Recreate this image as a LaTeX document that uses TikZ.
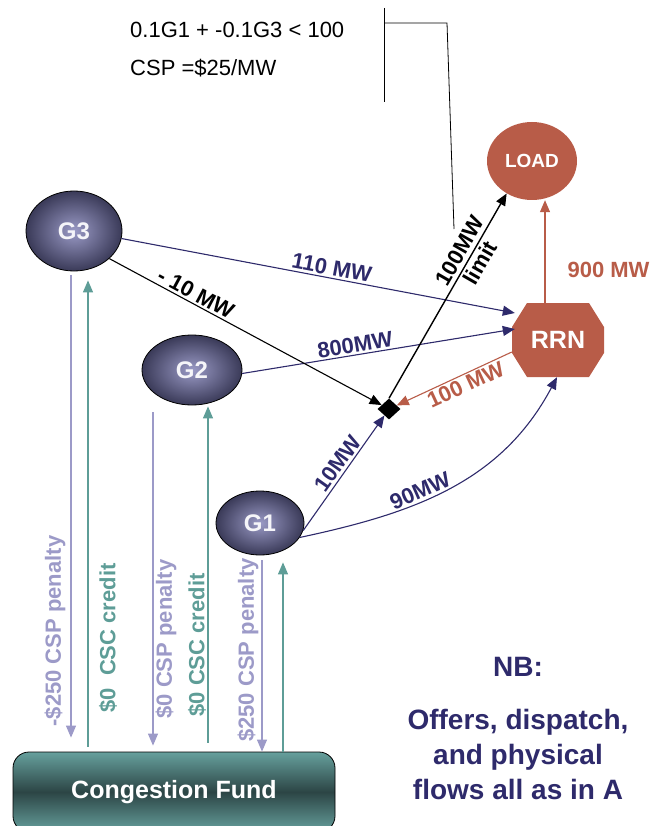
\documentclass[tikz,border=0pt]{standalone}
\usepackage{fontspec}
\setmainfont{Liberation Sans}
\usepackage{tikz}
\usetikzlibrary{arrows.meta, calc, shapes.geometric}

\definecolor{navy}{HTML}{2E2A6B}
\definecolor{brick}{HTML}{B85C48}
\definecolor{lilac}{HTML}{9C9AC8}
\definecolor{seagreen}{HTML}{5E9D97}
\definecolor{gendark}{HTML}{3A3A58}
\definecolor{genlight}{HTML}{9A9AC6}
\definecolor{fundlight}{HTML}{66A09D}
\definecolor{funddark}{HTML}{2C4545}

\tikzset{
    gen/.style={ellipse, draw=black, line width=0.8pt, inner color=genlight, outer color=gendark,
        text=white!90!lilac, font=\fontsize{24}{26}\selectfont\bfseries},
    flow/.style={-{Triangle[length=12pt,width=10pt]}, line width=1.1pt},
    pay/.style={-{Triangle[length=12pt,width=10pt]}, line width=1.1pt},
    lbl/.style={font=\fontsize{22}{24}\selectfont\bfseries, inner sep=2pt},
    vlbl/.style={lbl, rotate=90},
    rrnbox/.style={minimum width=92pt, minimum height=74pt, text=white,
        font=\fontsize{25}{27}\selectfont\bfseries,
        path picture={\fill[brick]
            ([xshift=15pt]path picture bounding box.north west) -- ([xshift=-15pt]path picture bounding box.north east)
            -- ([yshift=-24pt]path picture bounding box.north east) -- ([yshift=24pt]path picture bounding box.south east)
            -- ([xshift=-15pt]path picture bounding box.south east) -- ([xshift=15pt]path picture bounding box.south west)
            -- ([yshift=24pt]path picture bounding box.south west) -- ([yshift=-24pt]path picture bounding box.north west)
            -- cycle;}},
    fund/.style={rectangle, rounded corners=16pt, draw=black, line width=0.8pt,
        top color=fundlight, bottom color=fundlight, middle color=funddark,
        minimum width=322pt, minimum height=80pt, text=white,
        font=\fontsize{25}{27}\selectfont\bfseries},
    nbtext/.style={text=navy, font=\fontsize{28}{35}\selectfont\bfseries, inner sep=0pt}
}

\begin{document}
\begin{tikzpicture}[x=1pt, y=1pt]
    \useasboundingbox (0,0) rectangle (669,-826);
    \clip (0,0) rectangle (669,-826);

    % Constraint text and pointer
    \node[anchor=base west, inner sep=0pt, font=\fontsize{22}{24}\selectfont] (cons) at (130,-38) {0.1G1 + -0.1G3 < 100};
    \node[anchor=base west, inner sep=0pt, font=\fontsize{22}{24}\selectfont] (csp) at (130,-76) {CSP =\$25/MW};
    \coordinate (b1) at (384,-8);
    \coordinate (b2) at (384,-102);
    \coordinate (b3) at (384,-23);
    \coordinate (b4) at (447,-23);
    \coordinate (b5) at (454,-229);
    \draw[line width=0.8pt] (b1) -- (b2);
    \draw[line width=0.8pt] (b3) -- (b4) -- (b5);

    % Generators
    \node[gen, minimum width=96pt, minimum height=80pt] (g3) at (74,-231) {G3};
    \node[gen, minimum width=100pt, minimum height=70pt] (g2) at (192,-370) {G2};
    \node[gen, minimum width=88pt, minimum height=64pt] (g1) at (260,-523) {G1};

    % Load, RRN and junction
    \node[ellipse, fill=brick, minimum width=90pt, minimum height=78pt, text=white,
        font=\fontsize{19}{21}\selectfont\bfseries] (load) at (532,-161) {LOAD};
    \node[rrnbox] (rrn) at (558,-340) {RRN};
    \node[diamond, fill=black, minimum width=23pt, minimum height=21pt, inner sep=0pt] (dmd) at (389,-409) {};

    % Congestion fund
    \node[fund] (fund) at (174,-792) {Congestion Fund};

    % Physical flows
    \draw[flow, navy] (g3.-9) -- node[lbl, sloped, above, pos=0.53] {110 MW} ([xshift=3pt,yshift=27pt]rrn.west);
    \draw[flow, navy] (g2.-4) -- node[lbl, sloped, above, pos=0.42] {800MW} ([xshift=3pt,yshift=11pt]rrn.west);
    \draw[flow, black] (g3.-38) -- node[lbl, sloped, above, pos=0.3] {- 10 MW} (dmd);
    \draw[flow, navy] (g1.-10) -- node[lbl, sloped, above, pos=0.53] {10MW} (dmd);
    \draw[flow, navy] (g1.-20) to[out=12, in=-118] node[lbl, sloped, above, pos=0.4] {90MW} ($(rrn.south)+(-1,0)$);
    \draw[flow, brick] ([yshift=-12pt]rrn.west) -- node[lbl, sloped, below, pos=0.44] {100 MW} (dmd);
    \draw[flow, black, line width=1.4pt] (dmd.north) -- node[lbl, sloped, pos=0.69, align=center] {100MW\\limit} (load.-128);
    \coordinate (r1) at ($(rrn.north)+(-13,0)$);
    \draw[flow, brick] (r1) -- node[lbl, text=brick, right=20pt, pos=0.32] {900 MW} (r1 |- load.south);

    % Settlement flows
    \coordinate (c3p) at (71,0);
    \coordinate (c3c) at (88,0);
    \coordinate (c2p) at (153,0);
    \coordinate (c2c) at (208,0);
    \coordinate (c1p) at (262,0);
    \coordinate (c1c) at (283,0);
    \draw[pay, lilac, shorten <=4pt, shorten >=14pt] (c3p |- g3.south) -- (c3p |- fund.north);
    \draw[pay, seagreen, shorten <=5pt, shorten >=9pt] (c3c |- fund.north) -- (c3c |- g3.south);
    \draw[pay, lilac, shorten <=7pt, shorten >=6pt] (c2p |- g2.south) -- (c2p |- fund.north);
    \draw[pay, seagreen, shorten <=9pt, shorten >=1pt] (c2c |- fund.north) -- (c2c |- g2.south);
    \draw[pay, lilac, shorten <=5pt] (c1p |- g1.south) -- (c1p |- fund.north);
    \draw[pay, seagreen, shorten >=7pt] (c1c |- fund.north) -- (c1c |- g1.south);

    % Settlement labels
    \node[vlbl, text=lilac] (pen3) at (55,-631) {-\$250 CSP penalty};
    \node[vlbl, text=seagreen] (cred3) at (108,-638) {\$0\ \ CSC credit};
    \node[vlbl, text=lilac] (pen2) at (166,-639) {\$0 CSP penalty};
    \node[vlbl, text=seagreen] (cred2) at (197,-645) {\$0 CSC credit};
    \node[vlbl, text=lilac] (pen1) at (248,-650) {\$250 CSP penalty};

    % Note
    \node[nbtext, anchor=base] (nb) at (518,-676) {NB:};
    \node[nbtext, anchor=north, align=center] (note) at (518,-709) {Offers, dispatch,\\and physical\\flows all as in A};
\end{tikzpicture}
\end{document}
